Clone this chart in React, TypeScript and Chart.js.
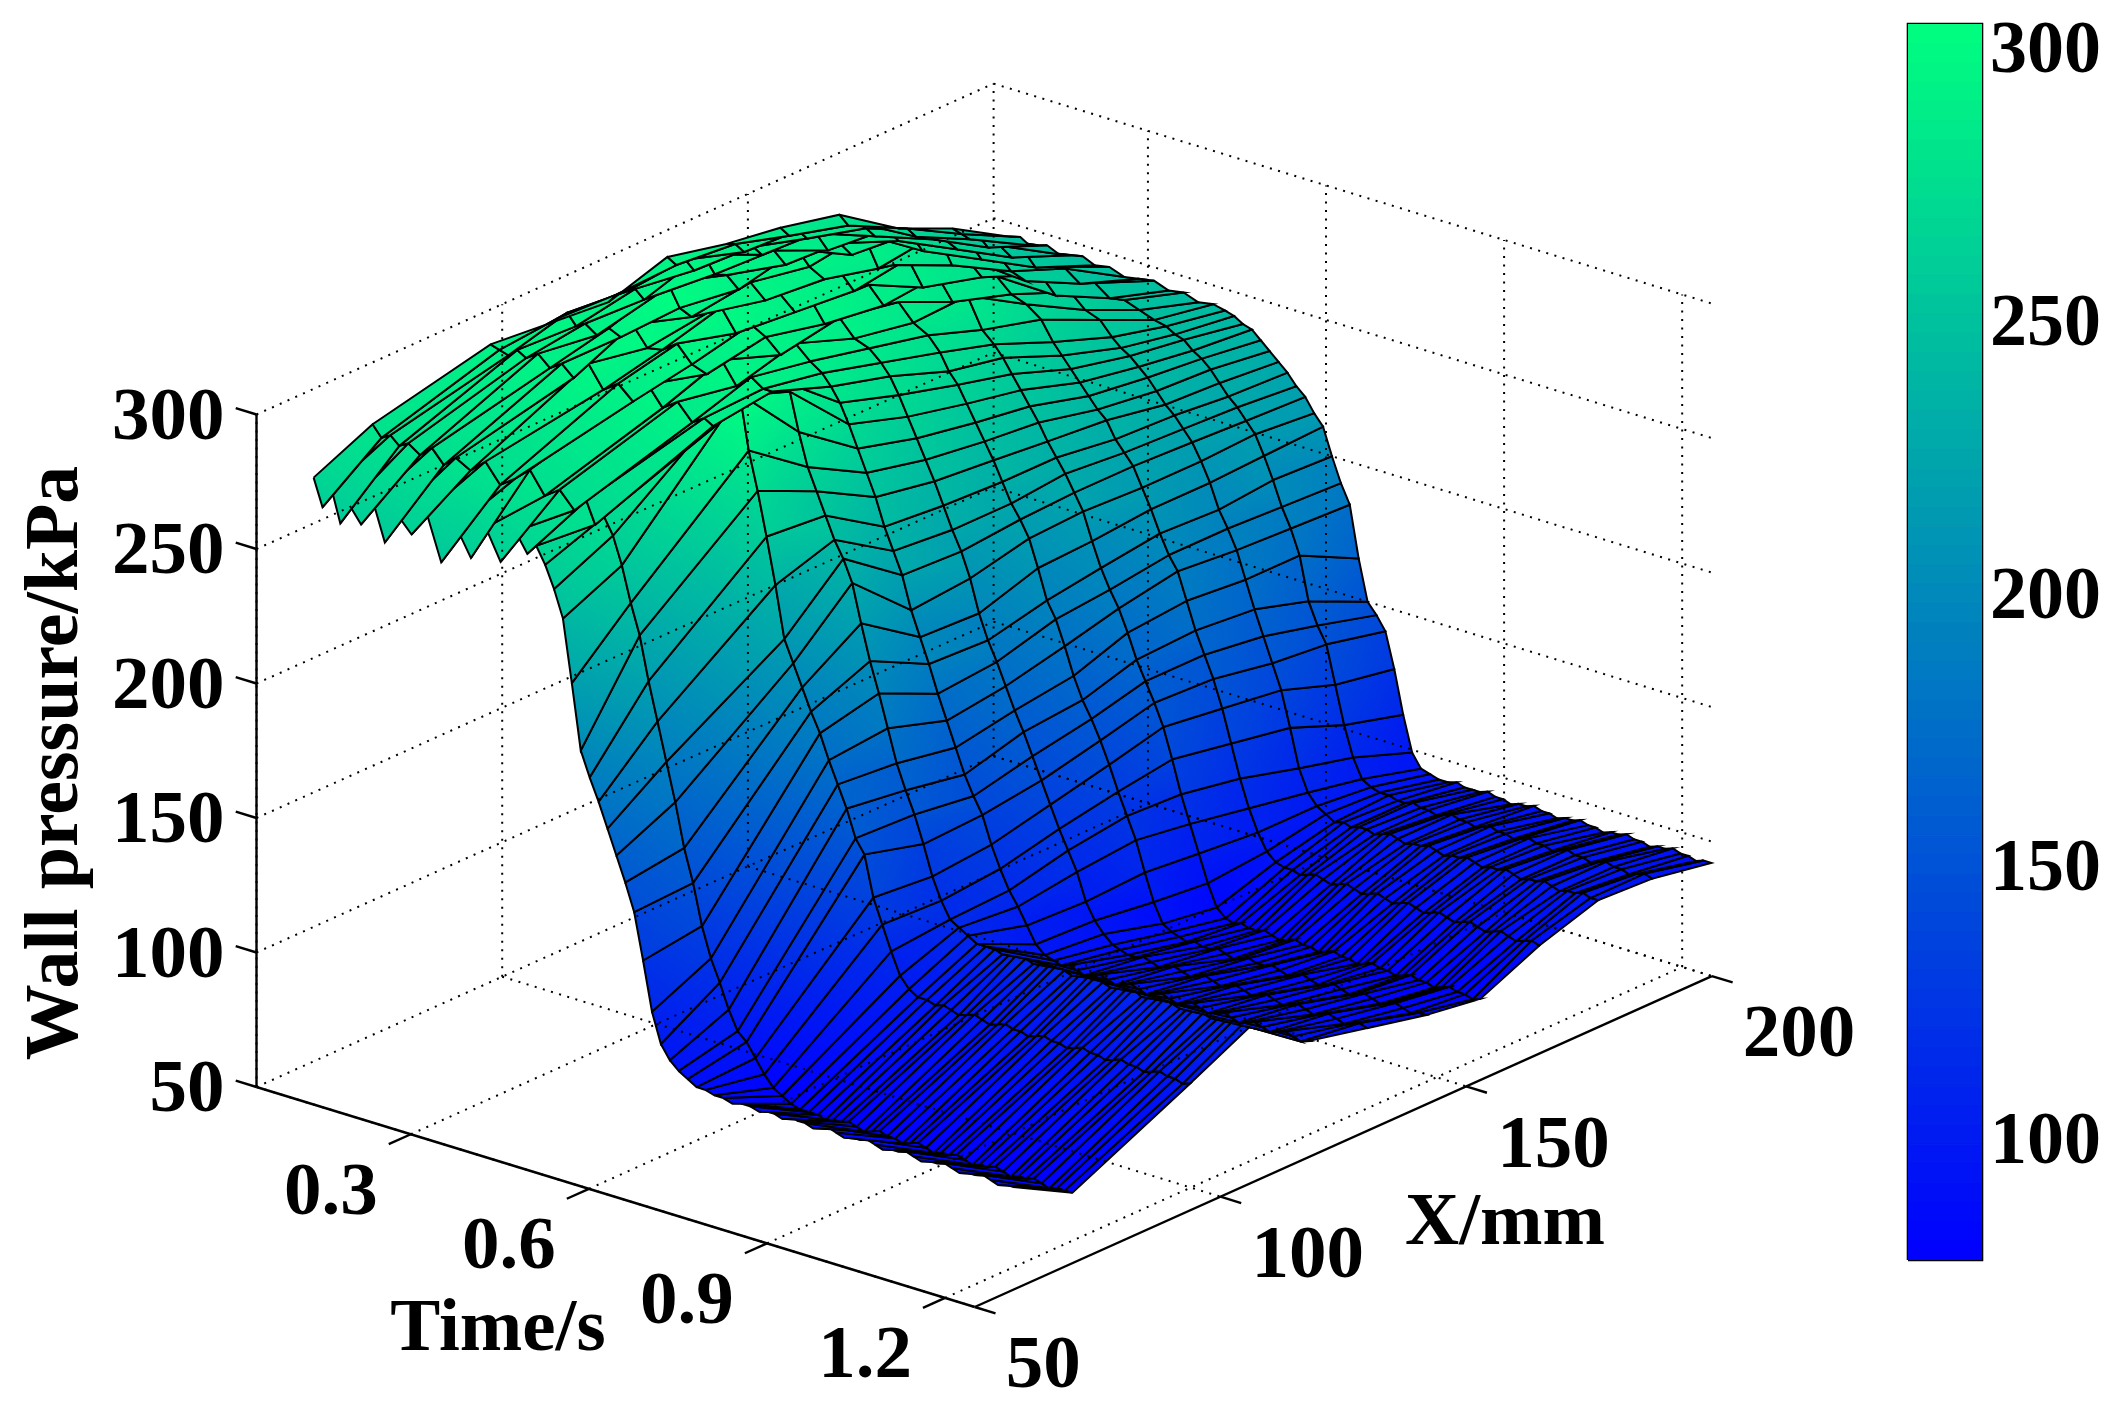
import React, { useEffect, useRef } from "react";
import { Chart, registerables } from "chart.js";

Chart.register(...registerables);

const positions = [58, 70, 94, 106, 118, 130, 142, 153, 165, 177, 188, 200];
const times = [
  0.07, 0.085, 0.1, 0.115, 0.13, 0.15, 0.17, 0.19, 0.21, 0.235, 0.26, 0.285, 0.31, 0.335, 0.36, 0.385, 0.41,
  0.43, 0.445, 0.46, 0.475, 0.49, 0.505, 0.52, 0.535, 0.55, 0.565, 0.58, 0.595, 0.61, 0.625, 0.64, 0.655, 0.67, 0.685,
  0.7, 0.715, 0.73, 0.745, 0.76, 0.775, 0.79, 0.805,
  0.82, 0.833, 0.846, 0.859, 0.872, 0.885, 0.898, 0.911, 0.924, 0.937, 0.95, 0.963, 0.976, 0.989, 1.002, 1.015, 1.028, 1.041,
  1.054, 1.067, 1.08, 1.093, 1.106, 1.119, 1.132, 1.145, 1.158, 1.171, 1.184, 1.197, 1.21, 1.223, 1.236, 1.249,
];
const pressure = [
  [272, 282, 292, 290, 288, 295, 290, 287, 282, 267, 258, 245],
  [262, 278, 291, 293, 292, 293, 291, 285, 279, 268, 257, 246],
  [270, 280, 290, 296, 294, 296, 289, 288, 281, 266, 256, 244],
  [258, 277, 293, 292, 296, 293, 292, 286, 280, 269, 258, 245],
  [266, 279, 291, 294, 293, 300, 290, 289, 278, 267, 255, 246],
  [260, 276, 294, 291, 296, 294, 293, 284, 282, 268, 257, 244],
  [270, 280, 290, 295, 302, 295, 289, 288, 279, 266, 254, 245],
  [256, 275, 293, 293, 294, 291, 296, 285, 283, 270, 258, 246],
  [268, 279, 289, 299, 292, 295, 291, 294, 278, 265, 253, 244],
  [262, 276, 296, 292, 295, 290, 288, 283, 286, 269, 255, 245],
  [272, 281, 288, 293, 299, 294, 293, 286, 276, 264, 256, 243],
  [255, 274, 292, 297, 291, 289, 287, 290, 280, 262, 252, 244],
  [270, 278, 287, 291, 296, 296, 291, 281, 275, 266, 254, 245],
  [260, 283, 295, 289, 293, 288, 285, 287, 277, 260, 250, 243],
  [273, 275, 288, 296, 288, 292, 288, 279, 272, 263, 251, 244],
  [262, 279, 292, 288, 294, 286, 282, 283, 270, 258, 249, 242],
  [275, 273, 286, 293, 289, 284, 279, 272, 266, 256, 247, 243],
  [268, 278, 289, 290, 286, 280, 274, 268, 259, 251, 246, 242],
  [272, 270, 287, 290, 282, 276, 268, 264, 255, 248, 244, 241],
  [266, 274, 290, 295, 277, 270, 264, 259, 251, 246, 243, 239],
  [258, 268, 300, 292, 270, 263, 258, 254, 247, 243, 240, 238],
  [248, 258, 302, 278, 262, 256, 252, 249, 243, 240, 238, 235],
  [225, 245, 282, 266, 254, 249, 246, 244, 239, 236, 235, 232],
  [201, 234, 268, 258, 246, 242, 240, 238, 236, 232, 231, 229],
  [192, 218, 252, 250, 236, 234, 233, 233, 230, 229, 227, 226],
  [184, 204, 235, 242, 228, 226, 226, 228, 226, 225, 224, 222],
  [175, 190, 216, 236, 220, 219, 221, 222, 222, 221, 220, 219],
  [166, 176, 208, 228, 208, 210, 215, 216, 215, 215, 216, 214],
  [157, 160, 200, 214, 199, 198, 205, 206, 208, 208, 209, 210],
  [147, 148, 192, 201, 190, 189, 194, 197, 200, 199, 201, 200],
  [130, 133, 185, 190, 180, 182, 188, 190, 193, 193, 192, 191],
  [112, 122, 176, 178, 171, 174, 179, 184, 188, 186, 185, 184],
  [101, 114, 168, 166, 162, 166, 169, 176, 178, 176, 176, 165],
  [96, 105, 160, 157, 153, 159, 161, 167, 168, 166, 160, 150],
  [93, 98, 150, 149, 146, 151, 155, 160, 160, 157, 152, 146],
  [91, 95, 145, 139, 140, 143, 148, 153, 152, 148, 146, 141],
  [89, 90, 130, 128, 130, 135, 140, 145, 142, 139, 132, 128],
  [89, 85, 121, 120, 122, 127, 131, 134, 130, 126, 118, 112],
  [88, 81, 112, 114, 115, 120, 123, 122, 118, 112, 107, 99],
  [88, 79, 104, 112, 110, 113, 115, 112, 108, 104, 100, 94],
  [87, 77, 100, 110, 104, 103, 104, 102, 100, 100, 98, 93],
  [88, 76, 98, 108, 98, 97, 94, 92, 94, 98, 97, 92],
  [88, 76, 98, 108, 95, 93, 87, 84, 91, 96, 97, 92],
  [87, 76, 97, 108, 94, 90, 85, 81, 90, 97, 96, 93],
  [88, 75, 98, 107, 93, 89, 84, 80, 90, 96, 96, 92],
  [88, 76, 97, 108, 94, 88, 83, 81, 89, 97, 97, 92],
  [87, 76, 96, 109, 93, 88, 84, 80, 90, 97, 96, 92],
  [89, 77, 97, 108, 92, 89, 83, 80, 91, 96, 96, 93],
  [88, 76, 98, 107, 93, 88, 83, 81, 90, 97, 95, 92],
  [88, 75, 97, 108, 94, 87, 84, 80, 89, 98, 96, 92],
  [87, 76, 96, 108, 93, 88, 83, 79, 90, 97, 97, 91],
  [88, 77, 97, 109, 92, 89, 82, 80, 91, 96, 96, 92],
  [89, 76, 98, 108, 93, 88, 83, 81, 90, 97, 96, 92],
  [88, 76, 97, 107, 94, 87, 84, 80, 89, 97, 95, 93],
  [87, 75, 97, 108, 93, 88, 83, 80, 90, 98, 96, 92],
  [88, 76, 96, 108, 92, 89, 83, 79, 91, 97, 97, 92],
  [88, 77, 97, 109, 93, 88, 84, 80, 90, 96, 96, 91],
  [89, 76, 98, 108, 94, 87, 83, 81, 89, 97, 96, 92],
  [88, 75, 97, 107, 93, 88, 82, 80, 90, 97, 95, 92],
  [87, 76, 97, 108, 92, 89, 83, 80, 91, 98, 96, 93],
  [88, 76, 96, 108, 93, 88, 84, 79, 90, 97, 97, 92],
  [88, 77, 97, 109, 94, 87, 83, 80, 89, 96, 96, 92],
  [89, 76, 98, 107, 93, 88, 82, 81, 90, 97, 96, 91],
  [88, 75, 97, 108, 92, 89, 83, 80, 91, 97, 95, 92],
  [87, 76, 97, 108, 93, 88, 84, 80, 90, 98, 96, 92],
  [88, 76, 96, 109, 94, 87, 83, 79, 89, 97, 97, 93],
  [88, 77, 97, 108, 93, 88, 82, 80, 90, 96, 96, 92],
  [89, 76, 98, 107, 92, 89, 83, 81, 91, 97, 96, 92],
  [88, 75, 97, 108, 93, 88, 84, 80, 90, 97, 95, 91],
  [87, 76, 97, 109, 94, 87, 83, 80, 89, 98, 96, 92],
  [88, 76, 96, 108, 93, 88, 82, 79, 90, 97, 97, 92],
  [88, 77, 97, 107, 92, 89, 83, 80, 91, 96, 96, 93],
  [89, 76, 98, 108, 93, 88, 84, 81, 90, 97, 96, 92],
  [88, 75, 97, 108, 94, 87, 83, 80, 89, 97, 95, 92],
  [87, 76, 97, 109, 93, 88, 82, 80, 90, 98, 96, 91],
  [88, 76, 96, 108, 92, 89, 83, 79, 91, 97, 97, 92],
  [88, 76, 97, 108, 93, 88, 83, 80, 90, 97, 96, 92],
];

const zTicks = [50, 100, 150, 200, 250, 300];
const timeTicks = [0.3, 0.6, 0.9, 1.2];
const xTicks = [50, 100, 150, 200];
const colorbarTicks = [100, 150, 200, 250, 300];
const colorbarMin = 77.3;
const colorbarMax = 303.8;
const colorLevels = 64;

const T0 = 0.04;
const T1 = 1.25;
const X0 = 50;
const X1 = 200;
const Z0 = 50;
const Z1 = 300;
const SERIF = "'Liberation Serif'";

const project = (t: number, x: number, z: number) => ({
  x: 256.5 + (t - T0) * 593.6 + (x - X0) * 4.914,
  y: 1087 + (t - T0) * 181.8 - (x - X0) * 2.206 - (z - Z0) * 2.69,
});

const winterAt = (c: number) => {
  const k = Math.max(0, Math.min(1, c));
  return `rgb(0,${Math.round(255 * k)},${Math.round(255 * (1 - k / 2))})`;
};
const zColor = (z: number) => winterAt((z - colorbarMin) / (colorbarMax - colorbarMin));

const thin = (pts: { x: number; y: number }[], dotted: boolean, w = 2) => ({
  data: pts,
  showLine: true,
  borderColor: "#000",
  borderWidth: w,
  borderDash: dotted ? [2, 6.5] : [],
  pointRadius: 0,
  fill: false,
  tension: 0,
  clip: false,
});

function frameDatasets() {
  const out: any[] = [];
  const dot = (a: any, b: any) => out.push(thin([a, b], true));
  const solid = (a: any, b: any) => out.push(thin([a, b], false, 2.4));
  timeTicks.forEach((t) => {
    dot(project(t, X0, Z0), project(t, X1, Z0));
    dot(project(t, X1, Z0), project(t, X1, Z1));
  });
  xTicks.forEach((x) => {
    dot(project(T0, x, Z0), project(T1, x, Z0));
    dot(project(T0, x, Z0), project(T0, x, Z1));
  });
  zTicks.forEach((z) => {
    dot(project(T0, X0, z), project(T0, X1, z));
    dot(project(T0, X1, z), project(T1, X1, z));
  });
  solid(project(T0, X0, Z0), project(T0, X0, Z1));
  solid(project(T0, X0, Z0), project(T1, X0, Z0));
  solid(project(T1, X0, Z0), project(T1, X1, Z0));
  zTicks.forEach((z) => solid(project(T0, X0, z), project(T0 - 0.035, X0, z)));
  timeTicks.forEach((t) => solid(project(t, X0, Z0), project(t, X0 - 4.5, Z0)));
  xTicks.forEach((x) => solid(project(T1, x, Z0), project(T1 + 0.035, x, Z0)));
  return out;
}

function surfaceDatasets() {
  const out: any[] = [];
  for (let r = 0; r < times.length - 1; r++) {
    for (let c = positions.length - 2; c >= 0; c--) {
      const corners = [
        [times[r], positions[c], pressure[r][c]],
        [times[r], positions[c + 1], pressure[r][c + 1]],
        [times[r + 1], positions[c + 1], pressure[r + 1][c + 1]],
        [times[r + 1], positions[c], pressure[r + 1][c]],
      ];
      const pts = corners.map((k) => project(k[0], k[1], k[2]));
      const zs = corners.map((k) => k[2]);
      const lo = zs.indexOf(Math.min(...zs));
      const hi = zs.indexOf(Math.max(...zs));
      out.push({
        data: [...pts, pts[0]],
        showLine: true,
        borderColor: "#000",
        borderWidth: 2,
        pointRadius: 0,
        tension: 0,
        fill: "shape",
        backgroundColor: (ctx: any) => {
          const chart = ctx.chart;
          const sx = chart.scales.x;
          const sy = chart.scales.y;
          const flat = zColor((zs[lo] + zs[hi]) / 2);
          if (!sx || !sy) return flat;
          const x0 = sx.getPixelForValue(pts[lo].x);
          const y0 = sy.getPixelForValue(pts[lo].y);
          const x1 = sx.getPixelForValue(pts[hi].x);
          const y1 = sy.getPixelForValue(pts[hi].y);
          if (![x0, y0, x1, y1].every(Number.isFinite)) return flat;
          const g = chart.ctx.createLinearGradient(x0, y0, x1, y1);
          g.addColorStop(0, zColor(zs[lo]));
          g.addColorStop(1, zColor(zs[hi]));
          return g;
        },
      });
    }
  }
  return out;
}

const labelsPlugin = {
  id: "axisLabels",
  afterDraw(chart: any) {
    const { ctx, scales } = chart;
    const px = (p: { x: number; y: number }) => ({ x: scales.x.getPixelForValue(p.x), y: scales.y.getPixelForValue(p.y) });
    ctx.save();
    ctx.fillStyle = "#000";
    ctx.font = `bold 75px ${SERIF}`;
    ctx.textBaseline = "middle";
    ctx.textAlign = "right";
    zTicks.forEach((z) => {
      const p = px(project(T0, X0, z));
      ctx.fillText(String(z), p.x - 32, p.y + 5);
    });
    ctx.textAlign = "center";
    timeTicks.forEach((t) => {
      const p = px(project(t, X0, Z0));
      ctx.fillText(t.toFixed(1), p.x - 80, p.y + 60);
    });
    ctx.textAlign = "left";
    xTicks.forEach((x) => {
      const p = px(project(T1, x, Z0));
      ctx.fillText(String(x), p.x + 31, p.y + 61);
    });
    ctx.textAlign = "center";
    ctx.fillText("Time/s", 498, 1331);
    ctx.fillText("X/mm", 1505, 1225);
    ctx.translate(57, 763);
    ctx.rotate(-Math.PI / 2);
    ctx.font = `bold 76px ${SERIF}`;
    ctx.fillText("Wall pressure/kPa", 0, 0);
    ctx.restore();
  },
};

function colorbarDatasets() {
  const out: any[] = [];
  const step = (colorbarMax - colorbarMin) / colorLevels;
  for (let i = 0; i < colorLevels; i++) {
    const a = colorbarMin + i * step;
    const b = a + step;
    const col = winterAt((i + 0.5) / colorLevels);
    out.push({
      data: [{ x: 0, y: a }, { x: 1, y: a }, { x: 1, y: b }, { x: 0, y: b }, { x: 0, y: a }],
      showLine: true,
      borderColor: col,
      borderWidth: 1,
      backgroundColor: col,
      fill: "shape",
      pointRadius: 0,
      tension: 0,
    });
  }
  colorbarTicks.forEach((v) => {
    out.push(thin([{ x: 0, y: v }, { x: 0.17, y: v }], false, 2.4));
    out.push(thin([{ x: 0.83, y: v }, { x: 1, y: v }], false, 2.4));
  });
  out.push(
    thin(
      [
        { x: 0, y: colorbarMin },
        { x: 1, y: colorbarMin },
        { x: 1, y: colorbarMax },
        { x: 0, y: colorbarMax },
        { x: 0, y: colorbarMin },
      ],
      false,
      2.6
    )
  );
  return out;
}

export default function App() {
  const mainRef = useRef<HTMLCanvasElement>(null);
  const barRef = useRef<HTMLCanvasElement>(null);

  useEffect(() => {
    const common = { responsive: false, animation: false as const, events: [] as any[] };
    const main = new Chart(mainRef.current!, {
      type: "scatter",
      data: { datasets: [...frameDatasets(), ...surfaceDatasets()] },
      options: {
        ...common,
        layout: { padding: 0 },
        plugins: { legend: { display: false }, tooltip: { enabled: false } },
        scales: {
          x: { type: "linear", min: 0, max: 2117, display: false },
          y: { type: "linear", min: 0, max: 1418, reverse: true, display: false },
        },
      },
      plugins: [labelsPlugin],
    } as any);
    const bar = new Chart(barRef.current!, {
      type: "scatter",
      data: { datasets: colorbarDatasets() },
      options: {
        ...common,
        layout: { padding: { left: 8, top: 24, bottom: 40, right: 0 } },
        plugins: { legend: { display: false }, tooltip: { enabled: false } },
        scales: {
          x: { type: "linear", min: 0, max: 1, display: false },
          y: {
            type: "linear",
            position: "right",
            min: colorbarMin,
            max: colorbarMax,
            grid: { display: false, drawTicks: false },
            border: { display: false },
            afterBuildTicks: (axis: any) => {
              axis.ticks = colorbarTicks.map((value) => ({ value }));
            },
            afterFit: (axis: any) => {
              axis.width = 135;
              axis.paddingTop = 0;
              axis.paddingBottom = 0;
            },
            ticks: {
              padding: 8,
              labelOffset: 8,
              color: "#000",
              font: { family: "Liberation Serif", weight: "bold", size: 74 },
            },
          },
        },
      },
    } as any);
    return () => {
      main.destroy();
      bar.destroy();
    };
  }, []);

  return (
    <div style={{ position: "absolute", left: 0, top: 0, width: 2117, height: 1418, background: "#fff", overflow: "hidden" }}>
      <canvas ref={mainRef} width={2117} height={1418} style={{ position: "absolute", left: 0, top: 0 }} />
      <canvas ref={barRef} width={217} height={1300} style={{ position: "absolute", left: 1900, top: 0 }} />
    </div>
  );
}
